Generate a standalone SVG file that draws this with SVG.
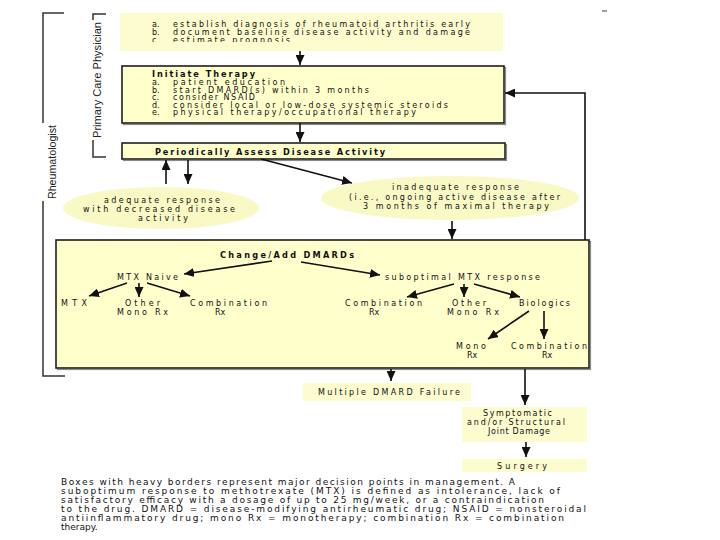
<svg xmlns="http://www.w3.org/2000/svg" width="720" height="540" viewBox="0 0 720 540">
<style>
text{font-family:"DejaVu Sans","Verdana",sans-serif;font-size:8px;fill:#111}
.b{font-weight:bold;font-size:8.2px}
.lbl{font-family:"Liberation Sans","Arial",sans-serif;font-size:11px;fill:#222}
.cap{font-size:9px}
.light{fill:#fcfccf;stroke:none}
.heavy{fill:#ffffcc;stroke:#1e1e1e;stroke-width:1.6}
.shadow{fill:none;stroke:#8a8a8a;stroke-width:1.2}
.ell{fill:#f9f9c6;stroke:none}
.br{fill:none;stroke:#333;stroke-width:1.5}
.c line,.c polyline{fill:none;stroke:#111;stroke-width:1.6;marker-end:url(#ah)}
</style>
<defs>
<marker id="ah" markerUnits="userSpaceOnUse" markerWidth="10" markerHeight="9" refX="10" refY="4.5" orient="auto" viewBox="0 0 10 9">
<path d="M0,0 L10,4.5 L0,9 z" fill="#111"/>
</marker>
<clipPath id="clipc"><rect x="100" y="30" width="420" height="12"/></clipPath>
</defs>
<rect width="720" height="540" fill="#fff"/>
<line x1="602" y1="11" x2="607" y2="11" stroke="#444" stroke-width="1"/>

<g id="rheumatologist">
<polyline class="br" points="64,13 43,13 43,123"/>
<polyline class="br" points="43,201 43,376 65,376"/>
<text class="lbl" transform="translate(56,162) rotate(-90)" text-anchor="middle" textLength="74" lengthAdjust="spacingAndGlyphs">Rheumatologist</text>
</g>
<g id="primary-care">
<polyline class="br" points="106,14 93,14 93,20"/>
<polyline class="br" points="93,140 93,157 106,157"/>
<text class="lbl" transform="translate(101,80) rotate(-90)" text-anchor="middle" textLength="116" lengthAdjust="spacingAndGlyphs">Primary Care Physician</text>
</g>

<g id="diagnosis">
<rect class="light" x="120" y="13" width="383" height="38"/>
<text x="152" y="27">a.</text><text x="173" y="27" textLength="297" lengthAdjust="spacing">establish diagnosis of rheumatoid arthritis early</text>
<text x="152" y="35">b.</text><text x="173" y="35" textLength="297" lengthAdjust="spacing">document baseline disease activity and damage</text>
<g clip-path="url(#clipc)"><text x="152" y="43">c.</text><text x="173" y="43" textLength="117" lengthAdjust="spacing">estimate prognosis</text></g>
</g>

<g id="initiate-therapy">
<rect class="shadow" x="123.5" y="67.5" width="382" height="57"/>
<rect class="heavy" x="122" y="66" width="382" height="57"/>
<text class="b" x="152" y="77" textLength="103" lengthAdjust="spacing">Initiate Therapy</text>
<text x="152" y="85">a.</text><text x="173" y="85" textLength="112" lengthAdjust="spacing">patient education</text>
<text x="152" y="92.5">b.</text><text x="173" y="92.5" textLength="196" lengthAdjust="spacing">start DMARD(s) within 3 months</text>
<text x="152" y="100">c.</text><text x="173" y="100" textLength="82" lengthAdjust="spacing">consider NSAID</text>
<text x="152" y="107.5">d.</text><text x="173" y="107.5" textLength="275" lengthAdjust="spacing">consider local or low-dose systemic steroids</text>
<text x="152" y="115">e.</text><text x="173" y="115" textLength="243" lengthAdjust="spacing">physical therapy/occupational therapy</text>
</g>

<g id="assess">
<rect class="shadow" x="123.5" y="144.5" width="383" height="16"/>
<rect class="heavy" x="122" y="143" width="383" height="16"/>
<text class="b" x="155" y="154.5" textLength="230" lengthAdjust="spacing">Periodically Assess Disease Activity</text>
</g>

<g id="adequate">
<ellipse class="ell" cx="161" cy="208" rx="98" ry="21"/>
<text x="104" y="203" textLength="116" lengthAdjust="spacing">adequate response</text>
<text x="83" y="212" textLength="152" lengthAdjust="spacing">with decreased disease</text>
<text x="138" y="221" textLength="50" lengthAdjust="spacing">activity</text>
</g>

<g id="inadequate">
<ellipse class="ell" cx="450" cy="198" rx="129" ry="22"/>
<text x="392" y="190" textLength="127" lengthAdjust="spacing">inadequate response</text>
<text x="349" y="199.5" textLength="211" lengthAdjust="spacing">(i.e., ongoing active disease after</text>
<text x="363" y="209" textLength="186" lengthAdjust="spacing">3 months of maximal therapy</text>
</g>

<g id="change-dmards">
<rect class="shadow" x="57.5" y="241.5" width="533" height="128"/>
<rect class="heavy" x="56" y="240" width="533" height="128"/>
<text class="b" x="220" y="257.5" textLength="134" lengthAdjust="spacing">Change/Add DMARDs</text>
<text x="117" y="279.5" textLength="61" lengthAdjust="spacing">MTX Naive</text>
<text x="385" y="279.5" textLength="155" lengthAdjust="spacing">suboptimal MTX response</text>
<text x="61" y="305.5" textLength="26" lengthAdjust="spacing">MTX</text>
<text x="125" y="305.5" textLength="35" lengthAdjust="spacing">Other</text>
<text x="117" y="315" textLength="51" lengthAdjust="spacing">Mono Rx</text>
<text x="190" y="305.5" textLength="77" lengthAdjust="spacing">Combination</text>
<text x="215" y="315">Rx</text>
<text x="345" y="305.5" textLength="77" lengthAdjust="spacing">Combination</text>
<text x="369" y="315">Rx</text>
<text x="452" y="305.5" textLength="34" lengthAdjust="spacing">Other</text>
<text x="447" y="315" textLength="52" lengthAdjust="spacing">Mono Rx</text>
<text x="519" y="305.5" textLength="51" lengthAdjust="spacing">Biologics</text>
<text x="456" y="349" textLength="30" lengthAdjust="spacing">Mono</text>
<text x="467" y="357.5">Rx</text>
<text x="511" y="349" textLength="76" lengthAdjust="spacing">Combination</text>
<text x="542" y="357.5">Rx</text>
</g>

<g id="multiple-failure">
<rect class="light" x="303" y="383" width="168" height="18"/>
<text x="318" y="395" textLength="142" lengthAdjust="spacing">Multiple DMARD Failure</text>
</g>

<g id="joint-damage">
<rect class="light" x="462" y="407" width="125" height="35"/>
<text x="483" y="416" textLength="69" lengthAdjust="spacing">Symptomatic</text>
<text x="467" y="425" textLength="98" lengthAdjust="spacing">and/or Structural</text>
<text x="488" y="434" textLength="62" lengthAdjust="spacing">Joint Damage</text>
</g>

<g id="surgery">
<rect class="light" x="462" y="459" width="125" height="13"/>
<text x="497" y="468.5" textLength="50" lengthAdjust="spacing">Surgery</text>
</g>

<g id="connectors" class="c">
<line x1="300" y1="51" x2="300" y2="65"/>
<line x1="300" y1="123" x2="300" y2="142"/>
<polyline points="585,240 585,93 505,93"/>
<line x1="166" y1="184" x2="166" y2="160"/>
<line x1="188" y1="160" x2="188" y2="184"/>
<line x1="261" y1="159" x2="352" y2="183"/>
<line x1="452" y1="221" x2="452" y2="239"/>
<line x1="272" y1="261" x2="184" y2="274"/>
<line x1="301" y1="262" x2="380" y2="275"/>
<line x1="127" y1="283" x2="89" y2="296"/>
<line x1="139" y1="283" x2="139" y2="297"/>
<line x1="147" y1="283" x2="190" y2="296"/>
<line x1="454" y1="284" x2="407" y2="297"/>
<line x1="464" y1="284" x2="464" y2="297"/>
<line x1="474" y1="284" x2="520" y2="297"/>
<line x1="529" y1="311" x2="488" y2="339"/>
<line x1="544" y1="311" x2="544" y2="339"/>
<line x1="391" y1="369" x2="391" y2="381"/>
<line x1="525" y1="369" x2="525" y2="405"/>
<line x1="526" y1="442" x2="526" y2="457"/>
</g>

<g id="caption">
<text class="cap" x="61" y="485" textLength="454" lengthAdjust="spacing">Boxes with heavy borders represent major decision points in management. A</text>
<text class="cap" x="61" y="494" textLength="499" lengthAdjust="spacing">suboptimum response to methotrexate (MTX) is defined as intolerance, lack of</text>
<text class="cap" x="61" y="503" textLength="483" lengthAdjust="spacing">satisfactory efficacy with a dosage of up to 25 mg/week, or a contraindication</text>
<text class="cap" x="61" y="512" textLength="525" lengthAdjust="spacing">to the drug. DMARD = disease-modifying antirheumatic drug; NSAID = nonsteroidal</text>
<text class="cap" x="61" y="521" textLength="503" lengthAdjust="spacing">antiinflammatory drug; mono Rx = monotherapy; combination Rx = combination</text>
<text class="cap" x="61" y="530">therapy.</text>
</g>
</svg>
